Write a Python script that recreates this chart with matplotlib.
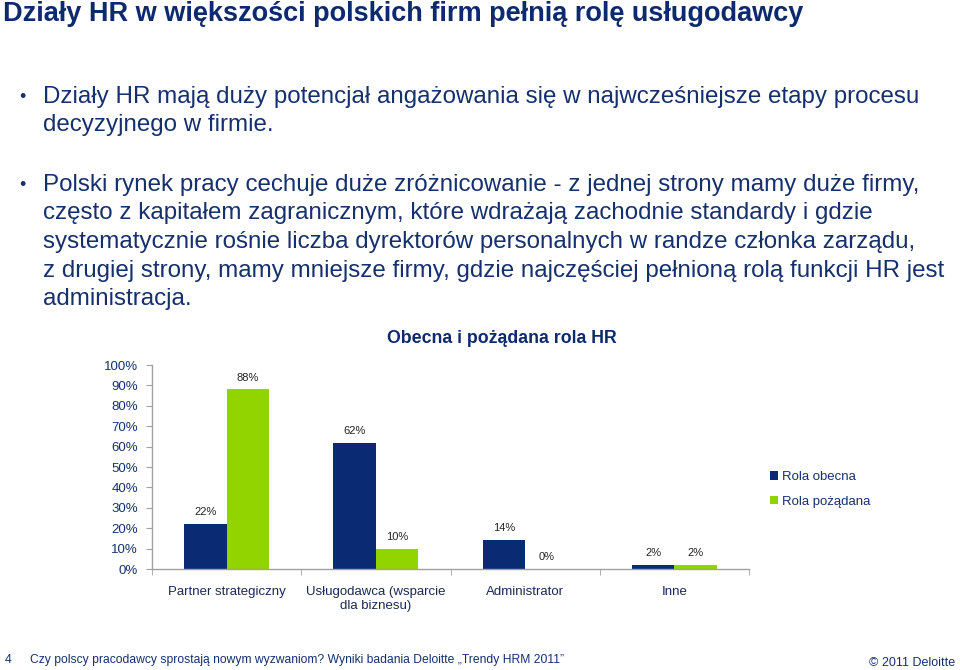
import matplotlib
matplotlib.use("Agg")
import matplotlib.pyplot as plt
import numpy as np

categories = ["Partner strategiczny", "Usługodawca (wsparcie\ndla biznesu)", "Administrator", "Inne"]
rola_obecna = [22, 62, 14, 2]
rola_pozadana = [88, 10, 0, 2]
series_names = ["Rola obecna", "Rola pożądana"]
yticks = [0, 10, 20, 30, 40, 50, 60, 70, 80, 90, 100]

title = "Działy HR w większości polskich firm pełnią rolę usługodawcy"
bullet1 = ["Działy HR mają duży potencjał angażowania się w najwcześniejsze etapy procesu",
           "decyzyjnego w firmie."]
bullet2 = ["Polski rynek pracy cechuje duże zróżnicowanie - z jednej strony mamy duże firmy,",
           "często z kapitałem zagranicznym, które wdrażają zachodnie standardy i gdzie",
           "systematycznie rośnie liczba dyrektorów personalnych w randze członka zarządu,",
           "z drugiej strony, mamy mniejsze firmy, gdzie najczęściej pełnioną rolą funkcji HR jest",
           "administracja."]
chart_title = "Obecna i pożądana rola HR"
footer_num = "4"
footer_text = "Czy polscy pracodawcy sprostają nowym wyzwaniom? Wyniki badania Deloitte \u201eTrendy HRM 2011\u201d"
footer_right = "© 2011 Deloitte"

NAVY = "#0E2A6E"
TEXT = "#16306E"
BLUE = "#0B2A74"
GREEN = "#92D400"

plt.rcParams['font.family'] = ['Liberation Sans', 'DejaVu Sans']

W, H = 960, 670
fig = plt.figure(figsize=(9.6, 6.7), dpi=100)

def fx(x):
    return x / W
def fy(y):
    return 1 - y / H

fig.text(fx(3), fy(14), title, fontsize=19.5, fontweight='bold', color=NAVY,
         va='center', ha='left')

def bullet(lines, y0, step=28.5):
    fig.text(fx(19), fy(y0), "•", fontsize=13, color=TEXT, va='center', ha='left')
    for i, ln in enumerate(lines):
        fig.text(fx(43), fy(y0 + i * step), ln, fontsize=17.4, color=TEXT, va='center', ha='left')

bullet(bullet1, 97)
bullet(bullet2, 185)

ax = fig.add_axes([fx(152), fy(569), fx(749) - fx(152), fy(365) - fy(569)])
x = np.arange(len(categories))
w = 0.285
b1 = ax.bar(x - w / 2, rola_obecna, w, color=BLUE, label=series_names[0])
b2 = ax.bar(x + w / 2, rola_pozadana, w, color=GREEN, label=series_names[1])
for bars, vals in ((b1, rola_obecna), (b2, rola_pozadana)):
    for r, v in zip(bars, vals):
        ax.annotate(f"{v}%", (r.get_x() + r.get_width() / 2, v), xytext=(0, 5),
                    textcoords='offset points', ha='center', va='bottom', fontsize=8, color='#222222')

ax.set_xlim(-0.5, len(categories) - 0.5)
ax.set_ylim(0, 100)
ax.set_yticks(yticks)
ax.set_yticklabels([f"{t}%" for t in yticks], fontsize=9.5, color=TEXT)
ax.set_xticks(x)
ax.set_xticklabels(categories, fontsize=9.5, color='#1a2a55', linespacing=1.3)
ax.set_xticks(np.arange(len(categories) + 1) - 0.5, minor=True)
ax.tick_params(axis='x', which='major', length=0, pad=12)
ax.tick_params(axis='x', which='minor', length=4, color='#A0A0A0', direction='out')
ax.tick_params(axis='y', length=4, color='#A0A0A0', direction='out', pad=6)
for s in ['top', 'right']:
    ax.spines[s].set_visible(False)
for s in ['left', 'bottom']:
    ax.spines[s].set_color('#A0A0A0')
    ax.spines[s].set_linewidth(1)

fig.text(fx(502), fy(339), chart_title, fontsize=12.8, fontweight='bold', color=NAVY, ha='center', va='center')

leg = fig.legend(handles=[b1, b2], labels=series_names, loc='upper left',
                 bbox_to_anchor=(fx(770), fy(471)), frameon=False, fontsize=9.5,
                 handlelength=0.6, handleheight=0.6, handletextpad=0.3, labelspacing=0.95,
                 borderaxespad=0, borderpad=0)
for t in leg.get_texts():
    t.set_color(TEXT)

fig.text(fx(5), fy(660), footer_num, fontsize=8.8, color=TEXT, ha='left', va='center')
fig.text(fx(30), fy(660), footer_text, fontsize=8.7, color=TEXT, ha='left', va='center')
fig.text(fx(955), fy(663), footer_right, fontsize=9, color=TEXT, ha='right', va='center')

fig.savefig("out.png", dpi=100)
